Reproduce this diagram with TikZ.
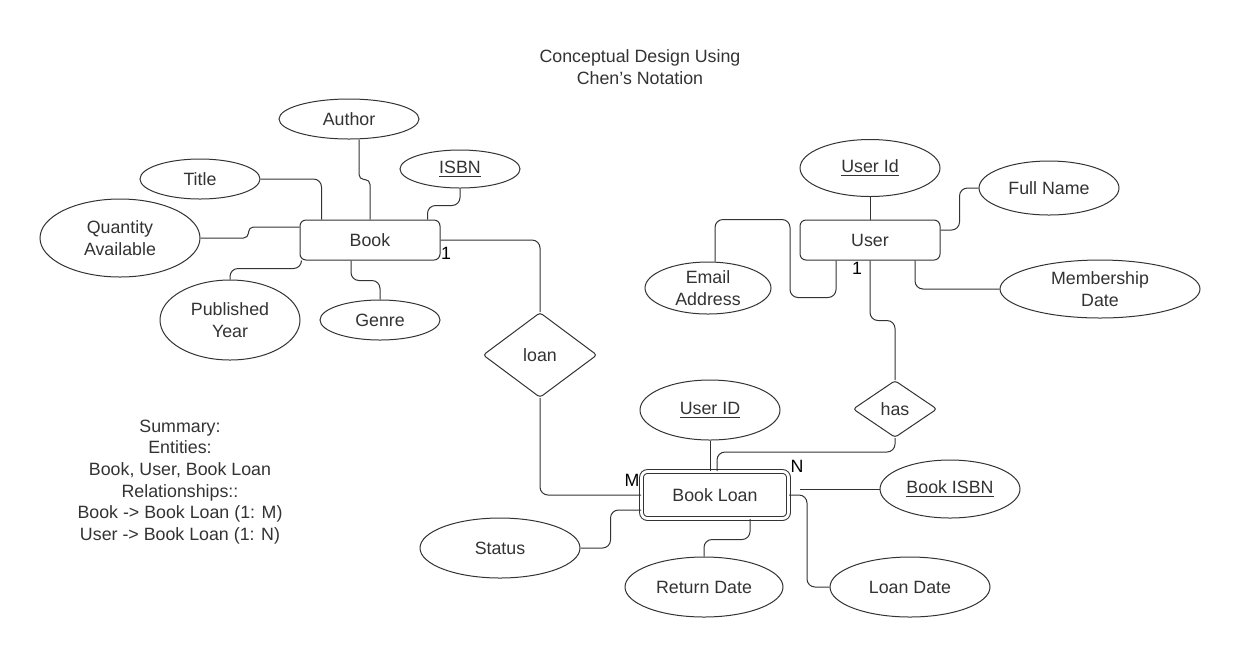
\documentclass[tikz,border=0pt]{standalone}
\usepackage{fontspec}
\setmainfont{Liberation Sans}
\usetikzlibrary{shapes.geometric,calc}
\definecolor{ink}{HTML}{333333}
\begin{document}
\begin{tikzpicture}[x=0.5pt,y=-0.5pt,
  every node/.style={text=ink,font=\fontsize{8.9pt}{10.8pt}\selectfont},
  attr/.style={draw=ink,line width=0.5pt,ellipse,inner sep=0pt,align=center},
  ent/.style={draw=ink,line width=0.5pt,rectangle,rounded corners=3pt,inner sep=0pt,minimum width=70pt,minimum height=20pt},
  wkent/.style={draw=ink,line width=0.5pt,double,double distance=1.4pt,rectangle,rounded corners=3pt,inner sep=0pt,minimum width=73.5pt,minimum height=23.5pt},
  rel/.style={draw=ink,line width=0.5pt,diamond,inner sep=0pt,rounded corners=1.5pt},
  conn/.style={draw=ink,line width=0.5pt,rounded corners=4pt},
  jog/.style={conn,rounded corners=2.5pt},
  card/.style={text=black,inner sep=0pt}
]
\fill[white] (0,0) rectangle (1240,660);
\useasboundingbox (0,0) rectangle (1240,660);

\node[align=center] (title) at (640,67) {Conceptual Design Using\\Chen's Notation};

% Book
\node[ent] (book) at (370,240) {Book};
\node[attr,minimum width=70pt,minimum height=20pt] (author) at (349,119) {Author};
\node[attr,minimum width=60pt,minimum height=19pt] (isbn) at (460,169) {\underline{ISBN}};
\node[attr,minimum width=60pt,minimum height=20pt] (title2) at (200,179) {Title};
\node[attr,minimum width=80pt,minimum height=39pt] (qty) at (120,238) {Quantity\\Available};
\node[attr,minimum width=70pt,minimum height=40pt] (pub) at (230,320) {Published\\Year};
\node[attr,minimum width=60pt,minimum height=20pt] (genre) at (380,320) {Genre};

\draw[conn] (title2.east) -| ($(book.north west)+(22,0)$);
\draw[jog] ($(author.south)+(10,0)$) -- ++(0,40) -| (book.north);
\draw[conn] (isbn.south) -- ++(0,17) -| ($(book.north east)+(-13,0)$);
\draw[jog] (qty.east) -- ++(48,0) |- ($(book.west)+(0,-13)$);
\draw[conn] (pub.north) -- ++(0,-11) -| ($(book.south west)+(2,0)$);
\draw[conn] ($(book.south)+(-19,0)$) -- ++(0,20) -| (genre.north);

% loan
\node[rel,minimum width=57pt,minimum height=42.5pt] (loan) at (540,355) {loan};
\node[wkent] (bl) at (715,495) {Book Loan};
\draw[conn] (book.east) -| (loan.north);
\draw[conn] (loan.south) |- (bl.west);
\node[card] (c1) at (446,253) {1};
\node[card] (cm) at (632,480) {M};

% User
\node[ent] (user) at (870,240) {User};
\node[attr,minimum width=70pt,minimum height=28.5pt] (userid) at (870,168) {\underline{User Id}};
\node[attr,minimum width=70pt,minimum height=27pt] (fullname) at (1049,188) {Full Name};
\node[attr,minimum width=100pt,minimum height=29pt] (mem) at (1100,289) {Membership\\Date};
\node[attr,minimum width=63pt,minimum height=26pt] (email) at (708,288) {Email\\Address};

\draw[conn] (userid.south) -- (user.north);
\draw[conn] (fullname.west) -- ++(-19,0) |- ($(user.east)+(0,-10)$);
\draw[conn] (mem.west) -| ($(user.south)+(45,0)$);
\draw[conn] ($(email.north)+(7,0)$) -- ++(0,-42) -- ++(75,0) -- ++(0,78) -| ($(user.south)+(-34,0)$);

% has
\node[rel,minimum width=42pt,minimum height=28.5pt] (has) at (895,409) {has};
\draw[conn] (user.south) -- ++(0,60) -| (has.north);
\draw[conn] (has.south) -- ++(0,14) -| ($(bl.north)+(2,0)$);
\node[card] (c2) at (857,268) {1};
\node[card] (cn) at (797,466) {N};

% Book Loan attributes
\node[attr,minimum width=70pt,minimum height=30pt] (uid) at (710,410) {\underline{User ID}};
\node[attr,minimum width=70pt,minimum height=29pt] (bisbn) at (950,489) {\underline{Book ISBN}};
\node[attr,minimum width=80pt,minimum height=30pt] (loandate) at (910,587) {Loan Date};
\node[attr,minimum width=79pt,minimum height=30pt] (ret) at (704,587) {Return Date};
\node[attr,minimum width=80pt,minimum height=30pt] (status) at (500,548) {Status};

\draw[conn] (uid.south) -- (uid.south |- bl.north);
\coordinate (bisbnend) at ($(bisbn.west)+(-80,0)$);
\draw[conn] (bisbn.west) -- (bisbnend);
\draw[conn] (bl.east) -- ++(18,0) |- (loandate.west);
\draw[conn] (ret.north) -- ++(0,-17) -| ($(bl.south)+(35,0)$);
\draw[conn] (status.east) -- ++(30,0) |- ($(bl.south west)+(0,-9)$);

% Summary
\node[align=center] (summary) at (180,482) {Summary:\\Entities:\\Book, User, Book Loan\\Relationships::\\Book -> Book Loan (1: M)\\User -> Book Loan (1: N)};
\end{tikzpicture}
\end{document}
